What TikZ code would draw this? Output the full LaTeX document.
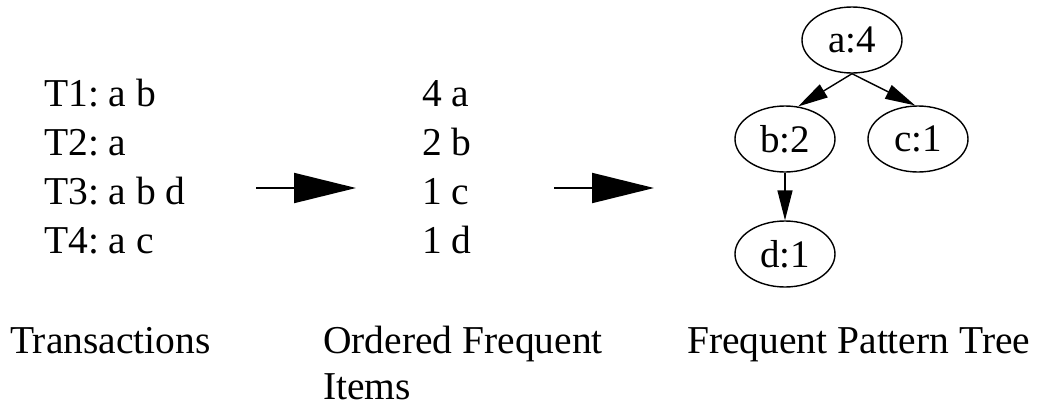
\documentclass[tikz,border=0pt]{standalone}
\usepackage{fontspec}
\setmainfont{Liberation Serif}
\usetikzlibrary{arrows.meta,shapes.geometric}
\frenchspacing
\begin{document}
\begin{tikzpicture}[x=1pt,y=-1pt,
  txt/.style={anchor=base west,inner sep=0pt,font=\fontsize{39.5}{46}\selectfont},
  treenode/.style={draw,ellipse,line width=1.4pt,minimum width=100pt,minimum height=66pt,inner sep=0pt,font=\fontsize{39}{46}\selectfont},
  bigarrow/.style={line width=2pt,-{Triangle[length=62pt,width=30pt]}},
  treeedge/.style={line width=1.4pt,-{Triangle[length=30pt,width=15pt]}}]
\useasboundingbox (0,0) rectangle (1037,410);

% transactions
\node[txt] (t1) at (44,106) {T1: a b};
\node[txt] (t2) at (44,155) {T2: a};
\node[txt] (t3) at (44,204) {T3: a b d};
\node[txt] (t4) at (44,253) {T4: a c};

% ordered frequent items
\node[txt] (i1) at (422,106) {4 a};
\node[txt] (i2) at (422,155) {2 b};
\node[txt] (i3) at (422,204) {1 c};
\node[txt] (i4) at (422,253) {1 d};

% transformation arrows
\coordinate (p1) at (256,188);
\coordinate (q1) at (356,188);
\coordinate (p2) at (554,188);
\coordinate (q2) at (654,188);
\draw[bigarrow] (p1) -- (q1);
\draw[bigarrow] (p2) -- (q2);

% frequent pattern tree
\node[treenode] (a) at (852,40) {a:4};
\node[treenode] (b) at (785,139) {b:2};
\node[treenode] (c) at (918,139) {c:1};
\node[treenode] (d) at (785,254) {d:1};
\draw[treeedge] (a.south) -- (b.68);
\draw[treeedge] (a.south) -- (c.95);
\draw[treeedge] (b.south) -- (d.north);

% captions
\node[txt] (l1) at (10,353) {Transactions};
\node[txt] (l2) at (323,353) {Ordered Frequent};
\node[txt] (l2b) at (323,399) {Items};
\node[txt] (l3) at (687,353) {Frequent Pattern Tree};
\end{tikzpicture}
\end{document}
